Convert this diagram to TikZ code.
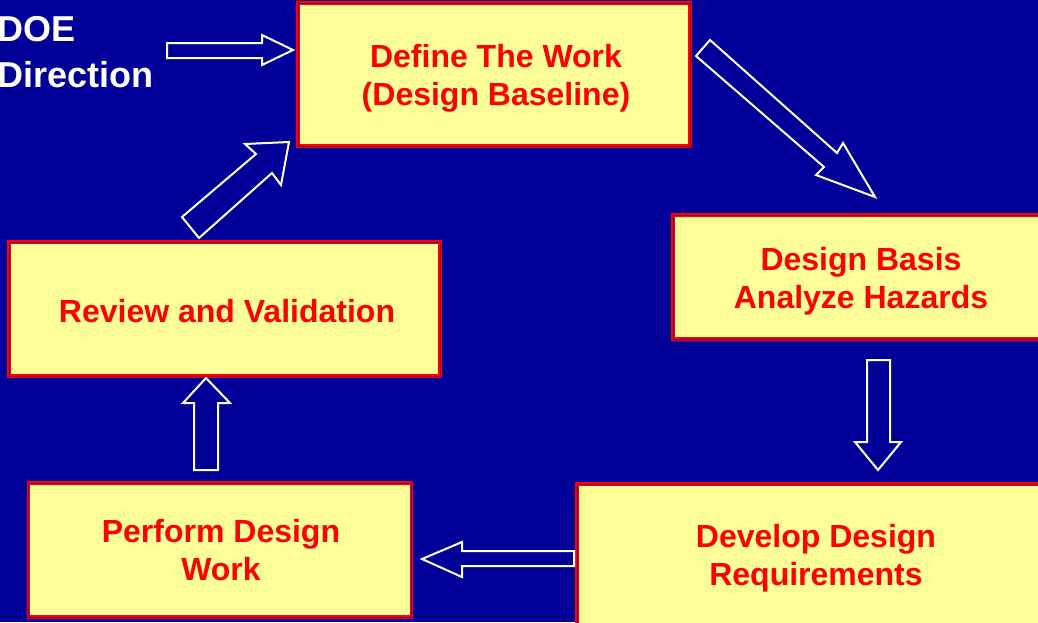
\documentclass[tikz,border=0pt]{standalone}
\usepackage{fontspec}
\setmainfont{Liberation Sans}
\definecolor{bg}{RGB}{0,0,153}
\definecolor{boxfill}{RGB}{255,255,153}
\definecolor{boxred}{RGB}{255,0,0}
\definecolor{boxdark}{RGB}{120,0,90}
\begin{document}
\begin{tikzpicture}[x=1pt,y=-1pt,
  procbox/.style={rectangle, fill=boxfill, draw=boxred, line width=3.5pt,
    inner sep=0pt, postaction={draw=boxdark, line width=1pt}},
  boxtext/.style={anchor=base, inner sep=0pt, text=boxred,
    font=\bfseries\fontsize{32}{38}\selectfont},
  blockarrow/.style={draw=white, line width=2pt, line join=miter, fill=bg},
  dirtext/.style={anchor=base west, inner sep=0pt, text=white,
    font=\bfseries\fontsize{36}{44}\selectfont}]
\useasboundingbox (0,0) rectangle (1038,622);
\fill[bg] (0,0) rectangle (1038,622);
% boxes
\node[procbox, minimum width=392, minimum height=143] (define) at (494,74.5) {};
\node[boxtext] (define1) at (496,67) {Define The Work};
\node[boxtext] (define2) at (496,105) {(Design Baseline)};
\node[procbox, minimum width=376, minimum height=124] (basis) at (861,277) {};
\node[boxtext] (basis1) at (861,270) {Design Basis};
\node[boxtext] (basis2) at (861,308) {Analyze Hazards};
\node[procbox, minimum width=431, minimum height=134] (review) at (224.5,309) {};
\node[boxtext] (review1) at (227,322) {Review and Validation};
\node[procbox, minimum width=383, minimum height=134] (perform) at (220,550) {};
\node[boxtext] (perform1) at (221,542) {Perform Design};
\node[boxtext] (perform2) at (221,580) {Work};
\node[procbox, minimum width=478, minimum height=142] (develop) at (816,555) {};
\node[boxtext] (develop1) at (816,547) {Develop Design};
\node[boxtext] (develop2) at (816,585) {Requirements};
% DOE Direction text
\node[dirtext] (doe) at (-3,41) {DOE};
\node[dirtext] (direction) at (-3,87) {Direction};
% block arrows
\draw[blockarrow] (167,43) -- (262,43) -- (262,35) -- (293,50) -- (262,65) -- (262,58) -- (167,58) -- cycle;
\draw[blockarrow] (710,40) -- (837,153) -- (843,143) -- (875,197) -- (816,175) -- (824,167) -- (696,56) -- cycle;
\draw[blockarrow] (867,360) -- (890,360) -- (890,442) -- (901,442) -- (878,470) -- (855,442) -- (867,442) -- cycle;
\draw[blockarrow] (574,551) -- (462,551) -- (462,542) -- (422,559) -- (462,577) -- (462,566) -- (574,566) -- cycle;
\draw[blockarrow] (194,470) -- (194,403) -- (183,403) -- (206,378) -- (230,403) -- (218,403) -- (218,470) -- cycle;
\draw[blockarrow] (182,217) -- (256,154) -- (245,144) -- (289,142) -- (281,185) -- (272,173) -- (199,238) -- cycle;
\end{tikzpicture}
\end{document}
